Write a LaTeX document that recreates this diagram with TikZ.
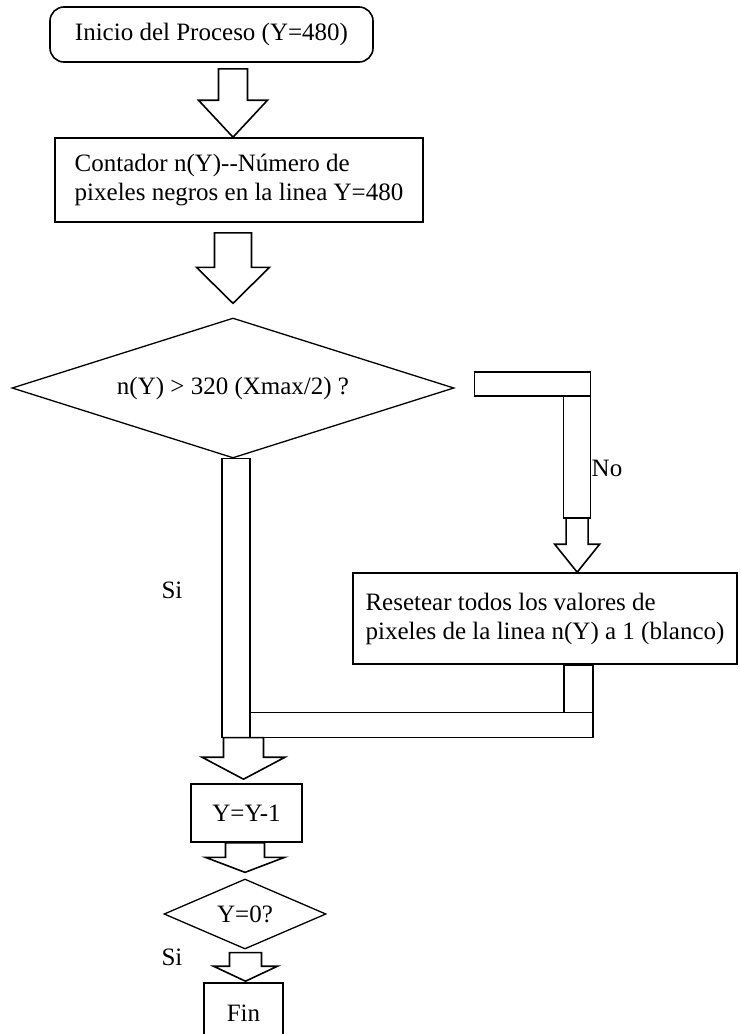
\documentclass[tikz,border=0pt]{standalone}
\usepackage{fontspec}
\setmainfont{Liberation Serif}
\usepackage{tikz}
\usetikzlibrary{calc,shapes.geometric}
\tikzset{
  chartfont/.style={font=\fontsize{25}{29}\selectfont},
  term/.style={draw, line width=1.6pt, rounded corners=14pt, inner sep=0pt, chartfont},
  proc/.style={draw, line width=1.6pt, inner sep=0pt, align=left, chartfont},
  ask/.style={draw, shape=diamond, line width=1.3pt, inner sep=0pt, chartfont},
  lbl/.style={inner sep=0pt, chartfont},
  fat/.style={draw, line width=1.6pt, fill=white, line join=miter}
}
% block arrow: top point, tip point, half shaft, half head, head length
\newcommand{\fatdown}[5]{%
  \draw[fat] let \p1=(#1), \p2=(#2) in
    (\x2-#3,\y1) -- (\x2+#3,\y1) -- (\x2+#3,\y2+#5) -- (\x2+#4,\y2+#5) -- (\x2,\y2)
    -- (\x2-#4,\y2+#5) -- (\x2-#3,\y2+#5) -- cycle;}
\begin{document}
\begin{tikzpicture}[x=1pt, y=-1pt]
\fill[white] (0,0) rectangle (740,1034);
\useasboundingbox (0,0) rectangle (740,1034);
\clip (0,0) rectangle (740,1034);
\node[term, minimum width=323pt, minimum height=55pt] (start) at (211.5,34.5) {Inicio del Proceso (Y=480)};
\node[proc, minimum width=368pt, minimum height=84pt] (count) at (239,180) {Contador n(Y)-{}-Número de\\pixeles negros en la linea Y=480};
\node[ask, aspect=3.16, minimum width=442pt, minimum height=140pt] (test) at (233,388) {n(Y) > 320 (Xmax/2) ?};
\node[proc, minimum width=384pt, minimum height=91pt] (reset) at (545,618.5) {Resetear todos los valores de\\pixeles de la linea n(Y) a 1 (blanco)};
\node[proc, minimum width=111pt, minimum height=58pt] (step1) at (246.5,813) {Y=Y-1};
\node[ask, aspect=2.31, minimum width=162pt, minimum height=70pt] (zero) at (245,914) {Y=0?};
\node[proc, minimum width=79pt, minimum height=60pt] (fin) at (243.5,1013) {Fin};
\node[lbl] (no) at (607,468) {No};
\node[lbl] (si) at (172,590) {Si};
\node[lbl] (si2) at (172,957) {Si};
\fatdown{$(start.south)+(0,6)$}{count.north -| test.north}{14.5pt}{34.5pt}{37pt}
\fatdown{$(count.south)+(0,10)$}{$(test.north)+(0,-14)$}{18.5pt}{36.5pt}{36pt}
\coordinate (nob) at ($(test.east)+(20,-16)$);
\coordinate (nov) at ($(nob)+(102.5,146)$);
\draw[fat] (nob) rectangle ++(116,24);
\draw[fat] ($(nob)+(89,24)$) rectangle ++(27,122);
\fatdown{nov}{reset.north -| nov}{11pt}{22.5pt}{28pt}
\coordinate (sib) at ($(test.south)+(-11,0)$);
\coordinate (merge) at ($(sib)+(0,279)$);
\draw[fat] (sib) rectangle ++(28,279);
\draw[fat] ($(reset.south)+(19,0)$) rectangle ++(29,48);
\draw[fat] ($(merge)+(28,-25)$) rectangle ++(343,25);
\fatdown{merge}{$(step1.north)+(-3,-4)$}{20pt}{41.5pt}{22pt}
\fatdown{step1.south}{$(zero.north)+(0,-6)$}{19.5pt}{39.5pt}{15pt}
\fatdown{$(zero.south)+(0,3)$}{$(fin.north)+(2,-1)$}{16pt}{32pt}{15pt}
\end{tikzpicture}
\end{document}
